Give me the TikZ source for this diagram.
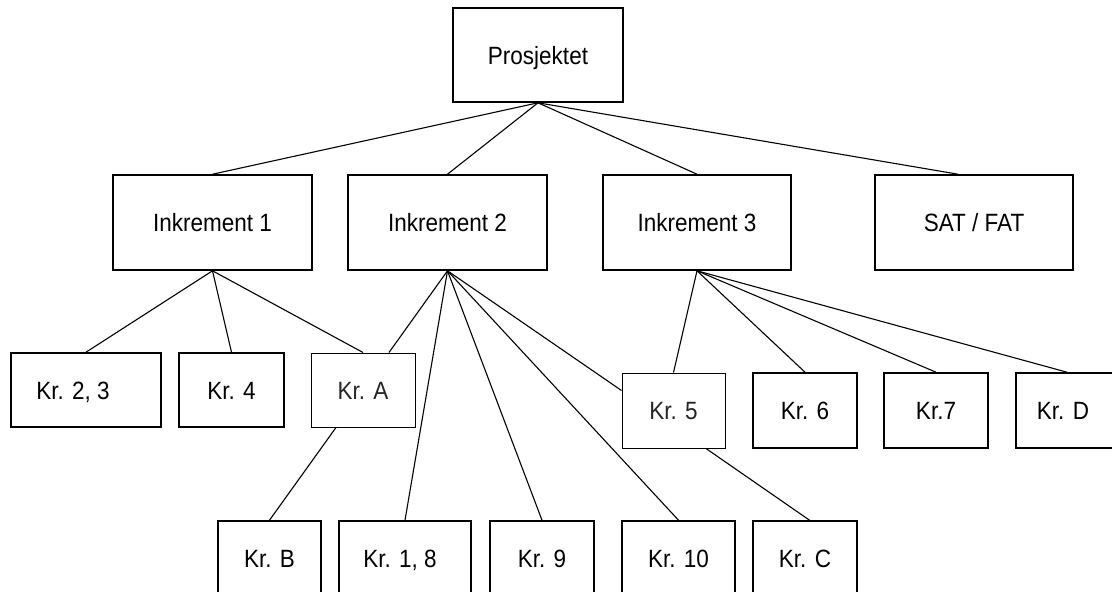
\documentclass[tikz,border=0pt]{standalone}
\usepackage{fontspec}
\setmainfont[FakeStretch=0.9]{Liberation Sans}
\begin{document}
\begin{tikzpicture}[x=1pt,y=-1pt,
  box/.style={draw, line width=1.6pt, fill=white, inner sep=0pt, text height=18pt, text depth=0pt, font=\fontsize{25}{28}\selectfont},
  thinbox/.style={box, line width=1pt, text=black!85},
  link/.style={line width=1.1pt}]
\path[use as bounding box, clip] (0,0) rectangle (1112,592);
% top
\node[box, minimum width=170pt, minimum height=94pt] (proj) at (538,55) {Prosjektet};
% level 1
\node[box, minimum width=199pt, minimum height=95pt] (ink1) at (212.5,222.5) {Inkrement 1};
\node[box, minimum width=199pt, minimum height=95pt] (ink2) at (447.5,222.5) {Inkrement 2};
\node[box, minimum width=188pt, minimum height=95pt] (ink3) at (697,222.5) {Inkrement 3};
\node[box, minimum width=198pt, minimum height=95pt] (sat) at (974,222.5) {SAT / FAT};
% level 2 left
\node[box, minimum width=150pt, minimum height=74pt] (kr23) at (86,390) {Kr. 2, 3\hspace*{26pt}};
\node[box, minimum width=105pt, minimum height=74pt] (kr4) at (231.5,390) {Kr. 4};
\node[thinbox, minimum width=104pt, minimum height=74pt] (krA) at (363,390) {Kr. A};
% level 2 right
\node[thinbox, minimum width=103pt, minimum height=75pt] (kr5) at (673.5,410.5) {Kr. 5};
\node[box, minimum width=104pt, minimum height=75pt] (kr6) at (805,410.5) {Kr. 6};
\node[box, minimum width=104pt, minimum height=75pt] (kr7) at (936,410.5) {Kr.7};
\node[box, minimum width=104pt, minimum height=75pt] (krD) at (1068,410.5) {Kr. D\hspace*{10pt}};
% bottom row
\node[box, minimum width=103pt, minimum height=74pt] (krB) at (269.5,558) {Kr. B};
\node[box, minimum width=132pt, minimum height=74pt] (kr18) at (405,558) {Kr. 1, 8\hspace*{10pt}};
\node[box, minimum width=104pt, minimum height=74pt] (kr9) at (542,558) {Kr. 9};
\node[box, minimum width=113pt, minimum height=74pt] (kr10) at (678.5,558) {Kr. 10};
\node[box, minimum width=104pt, minimum height=74pt] (krC) at (805,558) {Kr. C};
% connectors
\draw[link] (proj.south) -- (ink1.north);
\draw[link] (proj.south) -- (ink2.north);
\draw[link] (proj.south) -- (ink3.north);
\draw[link] (proj.south) -- ([xshift=-16pt]sat.north);
\draw[link] (ink1.south) -- (kr23.north);
\draw[link] (ink1.south) -- (kr4.north);
\draw[link] (ink1.south) -- (krA.north);
\draw[link] (ink2.south) -- ([xshift=26pt]krA.north);
\draw[link] (ink2.south) -- (kr18.north);
\draw[link] (ink2.south) -- (kr9.north);
\draw[link] (ink2.south) -- (kr10.north);
\draw[link] (ink2.south) -- ([yshift=20pt]kr5.west);
\draw[link] (ink3.south) -- (kr5.north);
\draw[link] (ink3.south) -- (kr6.north);
\draw[link] (ink3.south) -- (kr7.north);
\draw[link] (ink3.south) -- ([xshift=-1pt]krD.north);
\draw[link] ([xshift=-27pt]krA.south) -- (krB.north);
\draw[link] ([xshift=32.5pt]kr5.south) -- ([xshift=4.5pt]krC.north);
\end{tikzpicture}
\end{document}
